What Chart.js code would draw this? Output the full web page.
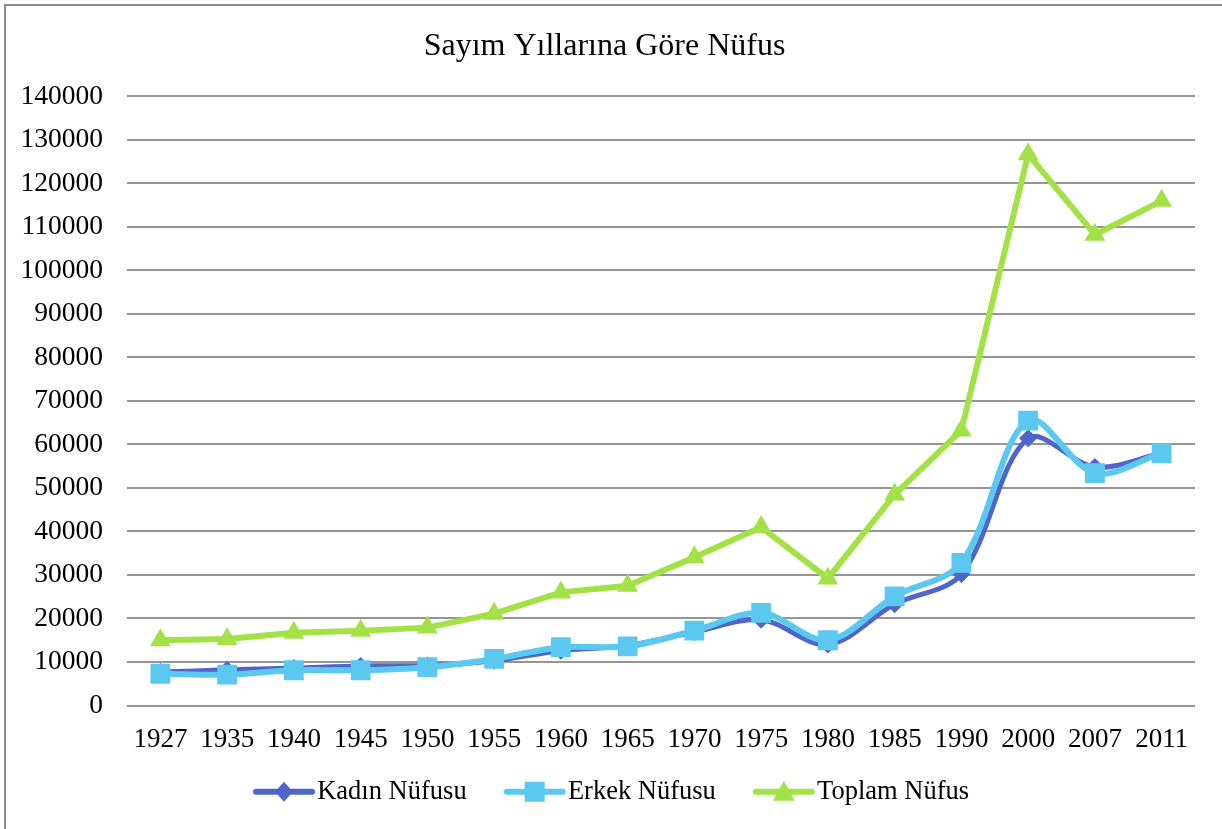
<!DOCTYPE html>
<html>
<head>
<meta charset="utf-8">
<script src="https://cdn.jsdelivr.net/npm/chart.js@4.4.1/dist/chart.umd.min.js"></script>
<style>
  html, body { margin: 0; padding: 0; background: #fff; }
  #wrap { position: relative; width: 1222px; height: 829px; overflow: hidden; }
  #frame { position: absolute; left: 4px; top: 4px; width: 1240px; height: 840px;
           border-top: 2px solid #8c8c8c; border-left: 2px solid #8c8c8c; pointer-events: none; }
  canvas { position: absolute; left: 0; top: 0; }
</style>
</head>
<body>
<div id="wrap">
  <canvas id="chart" width="1222" height="829"></canvas>
  <div id="frame"></div>
</div>
<script>
// Sayım yılları ve nüfus değerleri
const yillar = ['1927','1935','1940','1945','1950','1955','1960','1965','1970','1975','1980','1985','1990','2000','2007','2011'];
const kadinNufus  = [7700, 8200, 8600, 9100, 9200, 10300, 12600, 13800, 16900, 19700, 14000, 23300, 30200, 61400, 54800, 58000];
const erkekNufus  = [7300, 7100, 8100, 8100, 8800, 10700, 13400, 13600, 17200, 21300, 15000, 25100, 32800, 65500, 53400, 58000];
const toplamNufus = [15000, 15300, 16700, 17200, 17900, 21100, 26000, 27500, 34100, 41000, 29200, 48500, 63200, 126700, 108200, 116000];

const yMax  = 140000;
const yStep = 10000;

const RENK_KADIN  = '#4f65c9';
const RENK_ERKEK  = '#5bc8f0';
const RENK_TOPLAM = '#a2e247';
const FONT = 'Liberation Serif, Times New Roman, serif';

// Lejant için çizgi + işaret simgesi (sağa yaslı, metnin hemen önünde)
function lejantSimge(color, shape) {
  const c = document.createElement('canvas');
  c.width = 120; c.height = 26;
  const g = c.getContext('2d');
  const x0 = 44, x1 = 100, mx = 72, my = 13;
  g.strokeStyle = color;
  g.lineWidth = 6;
  g.lineCap = 'round';
  g.beginPath(); g.moveTo(x0, my); g.lineTo(x1, my); g.stroke();
  g.fillStyle = color;
  g.beginPath();
  if (shape === 'diamond') {
    g.moveTo(mx, my - 10); g.lineTo(mx + 9, my); g.lineTo(mx, my + 10); g.lineTo(mx - 9, my);
  } else if (shape === 'square') {
    g.rect(mx - 10, my - 10, 20, 20);
  } else {
    g.moveTo(mx, my - 11); g.lineTo(mx + 11, my + 9); g.lineTo(mx - 11, my + 9);
  }
  g.closePath(); g.fill();
  return c;
}

const simgeler = [
  lejantSimge(RENK_KADIN, 'diamond'),
  lejantSimge(RENK_ERKEK, 'square'),
  lejantSimge(RENK_TOPLAM, 'triangle')
];

new Chart(document.getElementById('chart'), {
  type: 'line',
  data: {
    labels: yillar,
    datasets: [
      { label: 'Kadın Nüfusu', data: kadinNufus, order: 1,
        borderColor: RENK_KADIN, backgroundColor: RENK_KADIN, borderWidth: 5,
        tension: 0.33, pointStyle: 'rectRot', pointRadius: 9,
        pointBorderWidth: 0, pointBackgroundColor: RENK_KADIN },
      { label: 'Erkek Nüfusu', data: erkekNufus, order: 0,
        borderColor: RENK_ERKEK, backgroundColor: RENK_ERKEK, borderWidth: 6,
        tension: 0.33, pointStyle: 'rect', pointRadius: 14,
        pointBorderWidth: 0, pointBackgroundColor: RENK_ERKEK },
      { label: 'Toplam Nüfus', data: toplamNufus, order: 2,
        borderColor: RENK_TOPLAM, backgroundColor: RENK_TOPLAM, borderWidth: 6,
        tension: 0, pointStyle: 'triangle', pointRadius: 12,
        pointBorderWidth: 0, pointBackgroundColor: RENK_TOPLAM }
    ]
  },
  options: {
    responsive: false,
    animation: false,
    layout: { padding: { left: 14, right: 27, top: 0, bottom: 14 } },
    plugins: {
      title: {
        display: true,
        text: 'Sayım Yıllarına Göre Nüfus',
        color: '#000',
        font: { family: FONT, size: 32, weight: 'normal' },
        padding: { top: 27, bottom: 31 }
      },
      legend: {
        position: 'bottom',
        labels: {
          color: '#000',
          font: { family: FONT, size: 26.5 },
          usePointStyle: true,
          pointStyleWidth: 64,
          padding: 24,
          generateLabels(chart) {
            return [0, 1, 2].map(i => ({
              text: chart.data.datasets[i].label,
              fontColor: '#000',
              pointStyle: simgeler[i],
              datasetIndex: i,
              lineWidth: 0,
              strokeStyle: 'transparent',
              fillStyle: 'transparent'
            }));
          }
        }
      },
      tooltip: { enabled: false }
    },
    scales: {
      x: {
        offset: true,
        grid: { display: false, drawTicks: false },
        border: { display: false },
        ticks: { color: '#000', font: { family: FONT, size: 27 }, padding: 18, maxRotation: 0, autoSkip: false },
        afterFit(scale) { scale.height = 49; }
      },
      y: {
        min: 0, max: yMax,
        grid: { color: '#959595', lineWidth: 2, drawTicks: false },
        border: { display: false },
        ticks: { stepSize: yStep, color: '#000', font: { family: FONT, size: 27.5 }, padding: 24,
                 callback: v => String(v) },
        afterFit(scale) { scale.width = 113; }
      }
    }
  }
});
</script>
</body>
</html>
